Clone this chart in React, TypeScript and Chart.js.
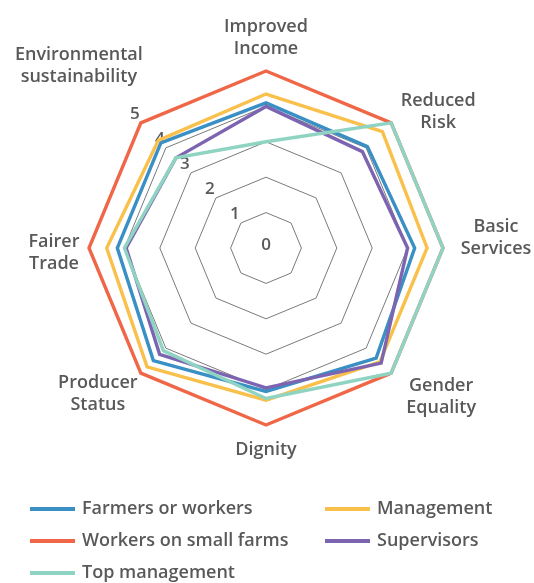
import React, { useEffect, useRef } from "react";
import { Chart, registerables } from "chart.js";

Chart.register(...registerables);

// ---- data ----
const categories: string[][] = [
  ["Improved", "Income"],
  ["Reduced", "Risk"],
  ["Basic", "Services"],
  ["Gender", "Equality"],
  ["Dignity"],
  ["Producer", "Status"],
  ["Fairer", "Trade"],
  ["Environmental", "sustainability"],
];

const farmersOrWorkers = [4.1, 4.05, 4.2, 4.4, 4.05, 4.5, 4.2, 4.2];
const management = [4.35, 4.65, 4.55, 4.55, 4.3, 4.75, 4.5, 4.3];
const workersOnSmallFarms = [5, 5, 5, 5, 5, 5, 5, 5];
const supervisors = [4.0, 3.85, 4.0, 4.6, 3.95, 4.25, 3.95, 3.6];
const topManagement = [3.0, 5.0, 5.0, 5.0, 4.25, 4.1, 4.0, 3.6];

const seriesNames = [
  "Farmers or workers",
  "Management",
  "Workers on small farms",
  "Supervisors",
  "Top management",
];

const tickValues = [0, 1, 2, 3, 4, 5];

// ---- style ----
const COLORS = ["#3a8fc4", "#f9c04c", "#ef6747", "#7c64b1", "#8fd4c3"];
const TEXT = "#595959";
const FONT = "'Open Sans', sans-serif";
const GRID = "#7a7a7a";

// label block offsets from each axis tip (style only)
const LABEL_OFFSETS: [number, number][] = [
  [0, -33.5],
  [47, -11],
  [53, -10],
  [50, 24],
  [0, 25],
  [-43, 21],
  [-35, 5],
  [-62, -57],
];
const LINE_H = 22;

// legend layout (style only): [x, y] of the line start for each series
const LEGEND_POS: [number, number][] = [
  [30, 509],
  [325, 509],
  [30, 541],
  [325, 541],
  [30, 573],
];

export default function App() {
  const ref = useRef<HTMLCanvasElement>(null);

  useEffect(() => {
    document.body.style.margin = "0";
    const canvas = ref.current;
    if (!canvas) return;

    const allData = [farmersOrWorkers, management, workersOnSmallFarms, supervisors, topManagement];

    const overlay = {
      id: "overlay",
      beforeDatasetsDraw(chart: any) {
        const scale = chart.scales.r;
        const ctx = chart.ctx;
        ctx.save();
        ctx.font = `600 17px ${FONT}`;
        ctx.fillStyle = TEXT;
        ctx.textAlign = "center";
        ctx.textBaseline = "middle";
        tickValues.forEach((v) => {
          if (v === 0) {
            ctx.fillText(String(v), scale.xCenter, scale.yCenter - 3);
            return;
          }
          const p = scale.getPointPositionForValue(categories.length - 1, v);
          ctx.fillText(String(v), p.x - 6, p.y - 8.5);
        });
        ctx.restore();
      },
      afterDraw(chart: any) {
        const scale = chart.scales.r;
        const ctx = chart.ctx;
        ctx.save();
        ctx.font = `600 18px ${FONT}`;
        ctx.fillStyle = TEXT;
        ctx.textAlign = "center";
        ctx.textBaseline = "middle";
        categories.forEach((lines, i) => {
          const tip = scale.getPointPosition(i, scale.drawingArea);
          const cx = tip.x + LABEL_OFFSETS[i][0];
          const cy = tip.y + LABEL_OFFSETS[i][1];
          const top = cy - ((lines.length - 1) * LINE_H) / 2;
          lines.forEach((ln, k) => ctx.fillText(ln, cx, top + k * LINE_H));
        });
        // legend
        ctx.textAlign = "left";
        seriesNames.forEach((name, i) => {
          const [x, y] = LEGEND_POS[i];
          ctx.fillStyle = COLORS[i];
          ctx.fillRect(x, y - 2, 45, 4);
          ctx.fillStyle = TEXT;
          ctx.fillText(name, x + 52, y);
        });
        ctx.restore();
      },
    };

    const chart = new Chart(canvas, {
      type: "radar",
      data: {
        labels: categories,
        datasets: seriesNames.map((name, i) => ({
          label: name,
          data: allData[i],
          borderColor: COLORS[i],
          backgroundColor: COLORS[i],
          borderWidth: 3.4,
          pointRadius: 0,
          pointHoverRadius: 0,
          fill: false,
          tension: 0,
          order: seriesNames.length - i,
        })),
      },
      options: {
        responsive: false,
        animation: false,
        events: [],
        layout: { padding: { left: 89, right: 91, top: 71, bottom: 158 } },
        plugins: { legend: { display: false }, tooltip: { enabled: false } },
        elements: { line: { borderJoinStyle: "miter" } },
        scales: {
          r: {
            min: 0,
            max: 5,
            ticks: { display: false, stepSize: 1 },
            pointLabels: { display: false },
            angleLines: { display: false },
            grid: { color: GRID, lineWidth: 1 },
          },
        },
      },
      plugins: [overlay],
    } as any);

    return () => chart.destroy();
  }, []);

  return (
    <div style={{ width: 534, height: 583, background: "#fff" }}>
      <canvas ref={ref} width={534} height={583} />
    </div>
  );
}
